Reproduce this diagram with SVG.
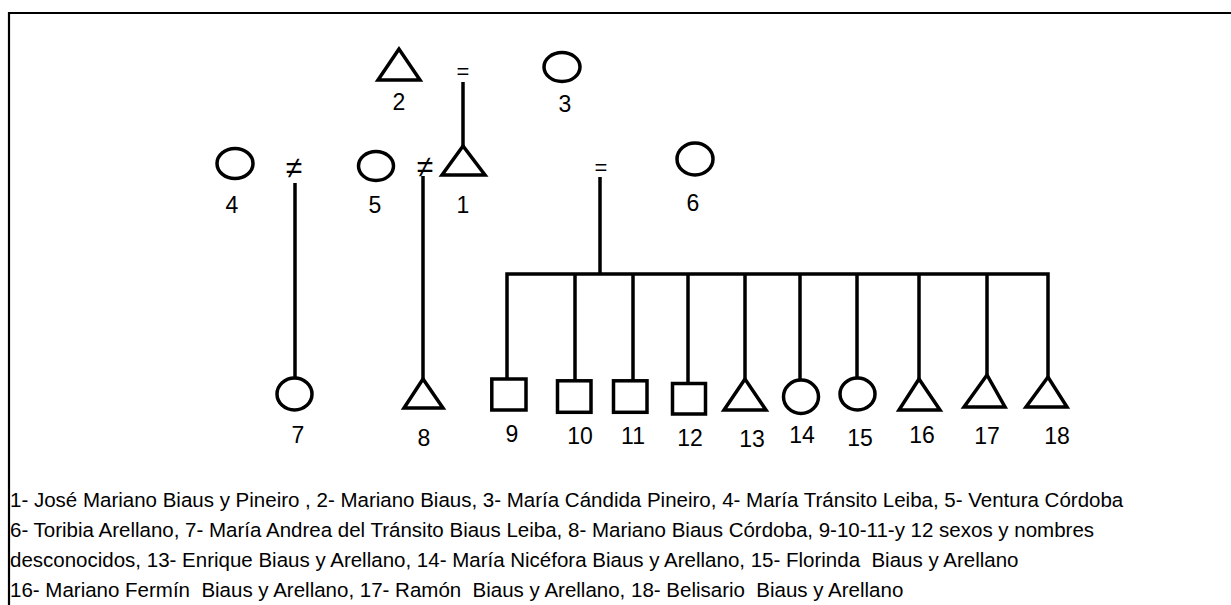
<svg xmlns="http://www.w3.org/2000/svg" width="1231" height="605" viewBox="0 0 1231 605">
<style>
.s{fill:#fff;stroke:#000;stroke-width:3.5;stroke-linejoin:miter}
.c{fill:none;stroke:#000;stroke-width:3.5}
.n{font-family:"Liberation Sans",Arial,sans-serif;font-size:23px;text-anchor:middle;fill:#000}
.m{font-family:"Liberation Sans","DejaVu Sans",sans-serif;font-size:22px;text-anchor:middle;fill:#000}
.ne{font-family:"Liberation Sans","DejaVu Sans",sans-serif;font-size:30px;text-anchor:middle;fill:#000}
.l{font-family:"Liberation Sans",Arial,sans-serif;font-size:20.5px;fill:#000}
</style>
<rect width="1231" height="605" fill="#fff"/>
<path d="M9,605 V13 H1231" fill="none" stroke="#000" stroke-width="2.2"/>
<g id="connectors">
<line class="c" x1="463" y1="82" x2="463" y2="146"/>
<line class="c" x1="295" y1="183" x2="295" y2="378"/>
<line class="c" x1="423" y1="176" x2="423" y2="379"/>
<line class="c" x1="600" y1="177" x2="600" y2="274"/>
<path class="c" d="M507,379 V274 H1048 V377"/>
<line class="c" x1="575" y1="274" x2="575" y2="381"/>
<line class="c" x1="633" y1="274" x2="633" y2="381"/>
<line class="c" x1="688" y1="274" x2="688" y2="384"/>
<line class="c" x1="745" y1="274" x2="745" y2="379"/>
<line class="c" x1="800" y1="274" x2="800" y2="381"/>
<line class="c" x1="857" y1="274" x2="857" y2="379"/>
<line class="c" x1="919" y1="274" x2="919" y2="379"/>
<line class="c" x1="987" y1="274" x2="987" y2="375"/>
<text class="m" x="463" y="79">=</text>
<text class="m" x="601" y="175">=</text>
<text class="ne" x="294" y="178">≠</text>
<text class="ne" x="425" y="177">≠</text>
</g>
<g id="n2"><polygon class="s" points="399,49 378,80 420,80"/><text class="n" x="399" y="110">2</text></g>
<g id="n3"><ellipse class="s" cx="562" cy="67" rx="18" ry="14.5"/><text class="n" x="565" y="112">3</text></g>
<g id="n4"><ellipse class="s" cx="235" cy="163.5" rx="18" ry="15"/><text class="n" x="232" y="213">4</text></g>
<g id="n5"><ellipse class="s" cx="376" cy="166" rx="17.5" ry="14.5"/><text class="n" x="375" y="213">5</text></g>
<g id="n1"><polygon class="s" points="463,146 442,175 485,175"/><text class="n" x="463" y="213">1</text></g>
<g id="n6"><ellipse class="s" cx="695" cy="159" rx="18" ry="16"/><text class="n" x="693" y="211">6</text></g>
<g id="n7"><ellipse class="s" cx="294.5" cy="394" rx="17.5" ry="16"/><text class="n" x="298" y="443">7</text></g>
<g id="n8"><polygon class="s" points="423,379 404,408 443,408"/><text class="n" x="424" y="446">8</text></g>
<g id="n9"><rect class="s" x="491.8" y="379" width="34.2" height="31"/><text class="n" x="512" y="442">9</text></g>
<g id="n10"><rect class="s" x="557.5" y="380.8" width="33.5" height="31.5"/><text class="n" x="580" y="444">10</text></g>
<g id="n11"><rect class="s" x="613.5" y="380.8" width="33.5" height="31.5"/><text class="n" x="633" y="444">11</text></g>
<g id="n12"><rect class="s" x="672.5" y="383.5" width="33" height="30.5"/><text class="n" x="690" y="446">12</text></g>
<g id="n13"><polygon class="s" points="745,379 724,410 766,410"/><text class="n" x="752" y="447">13</text></g>
<g id="n14"><ellipse class="s" cx="801" cy="396.7" rx="17.5" ry="16.7"/><text class="n" x="802" y="443">14</text></g>
<g id="n15"><ellipse class="s" cx="857.5" cy="394" rx="17.5" ry="16"/><text class="n" x="860" y="446">15</text></g>
<g id="n16"><polygon class="s" points="919,379 899,410 940,410"/><text class="n" x="922" y="443">16</text></g>
<g id="n17"><polygon class="s" points="987,375 964,407 1005,407"/><text class="n" x="987" y="444">17</text></g>
<g id="n18"><polygon class="s" points="1048,377 1026,407 1067,407"/><text class="n" x="1057" y="444">18</text></g>
<g id="legend">
<text class="l" x="10" y="507">1- José Mariano Biaus y Pineiro , 2- Mariano Biaus, 3- María Cándida Pineiro, 4- María Tránsito Leiba, 5- Ventura Córdoba</text>
<text class="l" x="10" y="537">6- Toribia Arellano, 7- María Andrea del Tránsito Biaus Leiba, 8- Mariano Biaus Córdoba, 9-10-11-y 12 sexos y nombres</text>
<text class="l" x="10" y="567" xml:space="preserve">desconocidos, 13- Enrique Biaus y Arellano, 14- María Nicéfora Biaus y Arellano, 15- Florinda  Biaus y Arellano</text>
<text class="l" x="10" y="597" xml:space="preserve">16- Mariano Fermín  Biaus y Arellano, 17- Ramón  Biaus y Arellano, 18- Belisario  Biaus y Arellano</text>
</g>
</svg>
